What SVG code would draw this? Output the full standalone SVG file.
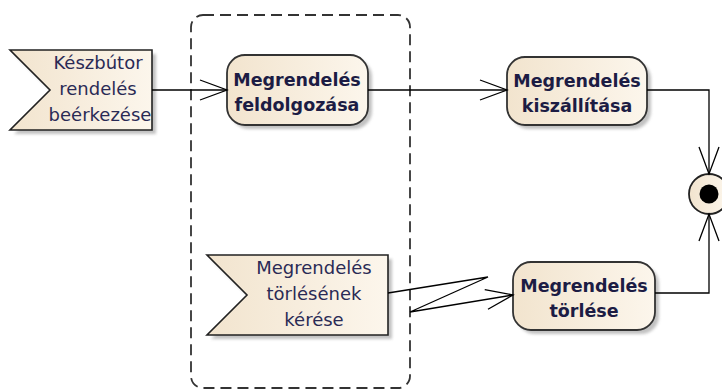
<svg xmlns="http://www.w3.org/2000/svg" width="722" height="391" viewBox="0 0 722 391">
<defs>
<linearGradient id="fillg" x1="0" y1="0" x2="1" y2="0">
<stop offset="0" stop-color="#F2E4CE"/>
<stop offset="1" stop-color="#FCF6EC"/>
</linearGradient>
<filter id="sh" x="-20%" y="-20%" width="140%" height="140%">
<feGaussianBlur stdDeviation="1.5"/>
</filter>
<marker id="arr" markerWidth="30" markerHeight="24" refX="28" refY="11" orient="auto" markerUnits="userSpaceOnUse">
<path d="M1,1 L28,11 L1,21" fill="none" stroke="#000" stroke-width="1.3"/>
</marker>
</defs>
<style>
.act{fill:url(#fillg);stroke:#333;stroke-width:1.8}
.evt{fill:url(#fillg);stroke:#222;stroke-width:1.6}
.shadow{fill:#999;opacity:0.6;filter:url(#sh)}
.at{font-family:"DejaVu Sans",sans-serif;font-weight:bold;font-size:17.5px;fill:#1c1c44;text-anchor:middle}
.et{font-family:"DejaVu Sans",sans-serif;font-size:18px;fill:#2a2a55;text-anchor:middle}
.edge{fill:none;stroke:#000;stroke-width:1.3}
</style>
<g id="region">
<rect x="191" y="15" width="219" height="373" rx="12" fill="none" stroke="#333" stroke-width="1.8" stroke-dasharray="11,6"/>
</g>
<g id="event1">
<polygon class="shadow" points="14,54 156,54 156,134 14,134 54,94"/>
<polygon class="evt" points="10,50 152,50 152,130 10,130 50,90"/>
<text class="et" x="98" y="69">Készbútor</text>
<text class="et" x="98" y="95">rendelés</text>
<text class="et" x="100" y="121">beérkezése</text>
</g>
<g id="action1">
<rect class="shadow" x="231" y="59" width="141" height="70" rx="18"/>
<rect class="act" x="227" y="55" width="141" height="70" rx="18"/>
<text class="at" x="297" y="86">Megrendelés</text>
<text class="at" x="297" y="111">feldolgozása</text>
</g>
<g id="action2">
<rect class="shadow" x="511" y="61" width="140" height="68" rx="18"/>
<rect class="act" x="507" y="57" width="140" height="68" rx="18"/>
<text class="at" x="577" y="87">Megrendelés</text>
<text class="at" x="577" y="112">kiszállítása</text>
</g>
<g id="action3">
<rect class="shadow" x="517" y="266" width="142" height="68" rx="18"/>
<rect class="act" x="513" y="262" width="142" height="68" rx="18"/>
<text class="at" x="584" y="292">Megrendelés</text>
<text class="at" x="584" y="317">törlése</text>
</g>
<g id="event2">
<polygon class="shadow" points="211,259 392,259 392,339 211,339 251,299"/>
<polygon class="evt" points="207,255 388,255 388,335 207,335 247,295"/>
<text class="et" x="314" y="274">Megrendelés</text>
<text class="et" x="314" y="300">törlésének</text>
<text class="et" x="314" y="326">kérése</text>
</g>
<g id="final">
<circle cx="709" cy="194" r="20" fill="url(#fillg)" stroke="#222" stroke-width="1.8"/>
<circle cx="709" cy="194" r="9.5" fill="#000"/>
</g>
<g id="connectors">
<path class="edge" d="M152,90 L227,90" marker-end="url(#arr)"/>
<path class="edge" d="M368,90 L507,90" marker-end="url(#arr)"/>
<path class="edge" d="M647,90 L709,90 L709,174" marker-end="url(#arr)"/>
<path class="edge" d="M655,293 L709,293 L709,214" marker-end="url(#arr)"/>
<path class="edge" d="M388,293 L488,277 L410,312 L513,295" marker-end="url(#arr)"/>
</g>
</svg>
